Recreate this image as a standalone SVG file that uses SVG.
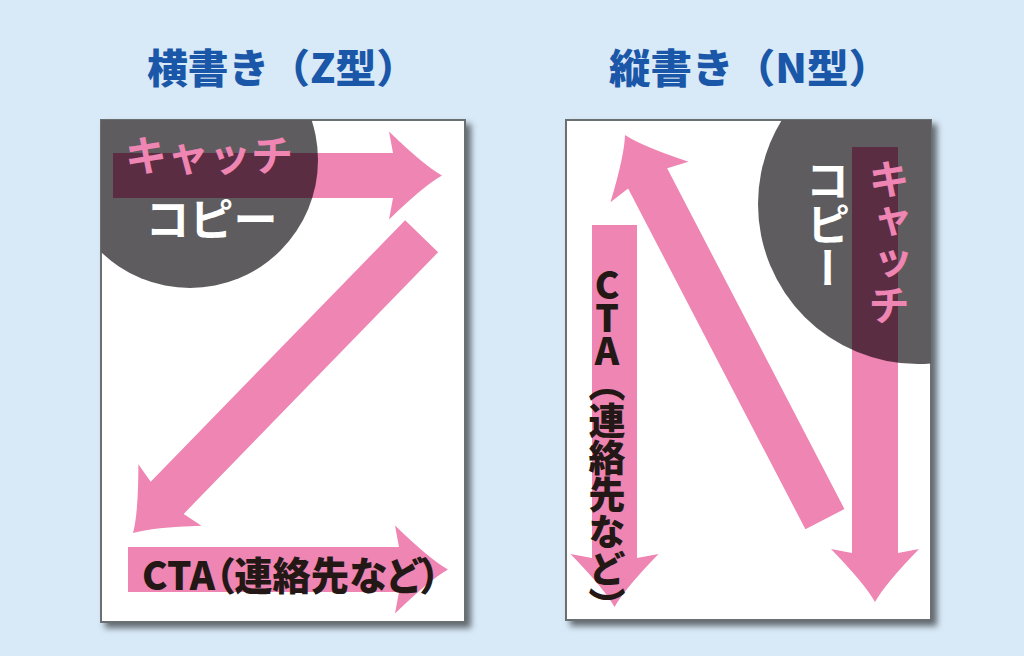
<svg xmlns="http://www.w3.org/2000/svg" width="1024" height="656" viewBox="0 0 1024 656">
<style>
.title{font-family:"Noto Sans CJK JP","Noto Sans",sans-serif;font-weight:900;font-size:40px;fill:#1a57a8}
.page{fill:#ffffff;stroke:#6b6f72;stroke-width:2}
.circ{fill:#5e5c5e}
.arrow{fill:#ee85b2}
.over{fill:#5b2d42}
.jp{font-family:"Noto Sans CJK JP",sans-serif;font-weight:700}
.pink{fill:#ee85b2}
.white{fill:#ffffff}
.cta{fill:#231815;font-family:"Noto Sans CJK JP",sans-serif;font-weight:900}
.vert{writing-mode:vertical-rl}
.up{text-orientation:upright}
</style>
<defs>
<filter id="sh" x="-10%" y="-10%" width="125%" height="125%">
<feDropShadow dx="5" dy="5" stdDeviation="3" flood-color="#000" flood-opacity="0.55"/>
</filter>
<clipPath id="pageL"><rect x="101" y="120" width="364" height="502"/></clipPath>
<clipPath id="pageR"><rect x="566" y="120" width="365" height="500"/></clipPath>
<clipPath id="circL"><circle cx="190" cy="160" r="128"/></clipPath>
<clipPath id="circR"><circle cx="918" cy="204" r="160"/></clipPath>
</defs>
<rect width="1024" height="656" fill="#d8e9f7"/>

<g id="title-z"><text class="title" x="147" y="83" textLength="270" lengthAdjust="spacingAndGlyphs">横書き（Z型）</text></g>
<g id="title-n"><text class="title" x="609" y="83" textLength="281" lengthAdjust="spacingAndGlyphs">縦書き（N型）</text></g>

<g id="page-z">
<rect class="page" x="101" y="120" width="364" height="502" filter="url(#sh)"/>
<g clip-path="url(#pageL)">
<circle class="circ" cx="190" cy="160" r="128"/>
</g>
</g>

<g id="page-n">
<rect class="page" x="566" y="120" width="365" height="500" filter="url(#sh)"/>
<g clip-path="url(#pageR)">
<circle class="circ" cx="918" cy="204" r="160"/>
</g>
</g>

<g id="connectors">
<path id="z-arrow1" class="arrow" transform="translate(442,175.5)" d="M0,0 Q-18,-10 -53,-44 L-49,-22.5 H-329 V22.5 H-49 L-53,44 Q-18,10 0,0Z"/>
<path id="z-arrow2" class="arrow" transform="translate(133,533) rotate(134.2)" d="M0,0 Q-18,-10 -53,-44 L-49,-23 H-414 V23 H-49 L-53,44 Q-18,10 0,0Z"/>
<path id="z-arrow3" class="arrow" transform="translate(448,569.5)" d="M0,0 Q-18,-10 -53,-44 L-49,-22.5 H-320 V22.5 H-49 L-53,44 Q-18,10 0,0Z"/>
<path id="n-arrow1" class="arrow" transform="translate(614.5,607) rotate(90)" d="M0,0 Q-18,-10 -53,-44 L-49,-22.5 H-382 V22.5 H-49 L-53,44 Q-18,10 0,0Z"/>
<path id="n-arrow2" class="arrow" transform="translate(625,135) rotate(-117.5)" d="M0,0 Q-18,-10 -53,-44 L-49,-22 H-433 V22 H-49 L-53,44 Q-18,10 0,0Z"/>
<path id="n-arrow3" class="arrow" transform="translate(875,602) rotate(90)" d="M0,0 Q-18,-10 -53,-44 L-49,-23 H-455 V23 H-49 L-53,44 Q-18,10 0,0Z"/>
<g clip-path="url(#circL)">
<rect class="over" x="113" y="153" width="290" height="45"/>
</g>
<g clip-path="url(#circR)">
<rect class="over" x="852" y="147" width="46" height="260"/>
</g>
</g>

<g id="z-catch">
<text class="jp pink" x="125" y="171" font-size="42">キャッチ</text>
<text class="jp white" x="211.5" y="236" font-size="44" text-anchor="middle">コピー</text>
</g>
<g id="z-cta">
<text class="cta" x="142" y="590" font-size="39" style="font-feature-settings:'palt'" textLength="298" lengthAdjust="spacingAndGlyphs">CTA（連絡先など）</text>
</g>

<g id="n-catch">
<text class="jp pink vert" x="889" y="158" font-size="42">キャッチ</text>
<text class="jp white vert" x="828" y="158" font-size="44">コピー</text>
</g>
<g id="n-cta">
<text class="cta vert up" x="607" y="266" font-size="37"><tspan letter-spacing="-4">CTA</tspan>（連絡先など）</text>
</g>
</svg>
